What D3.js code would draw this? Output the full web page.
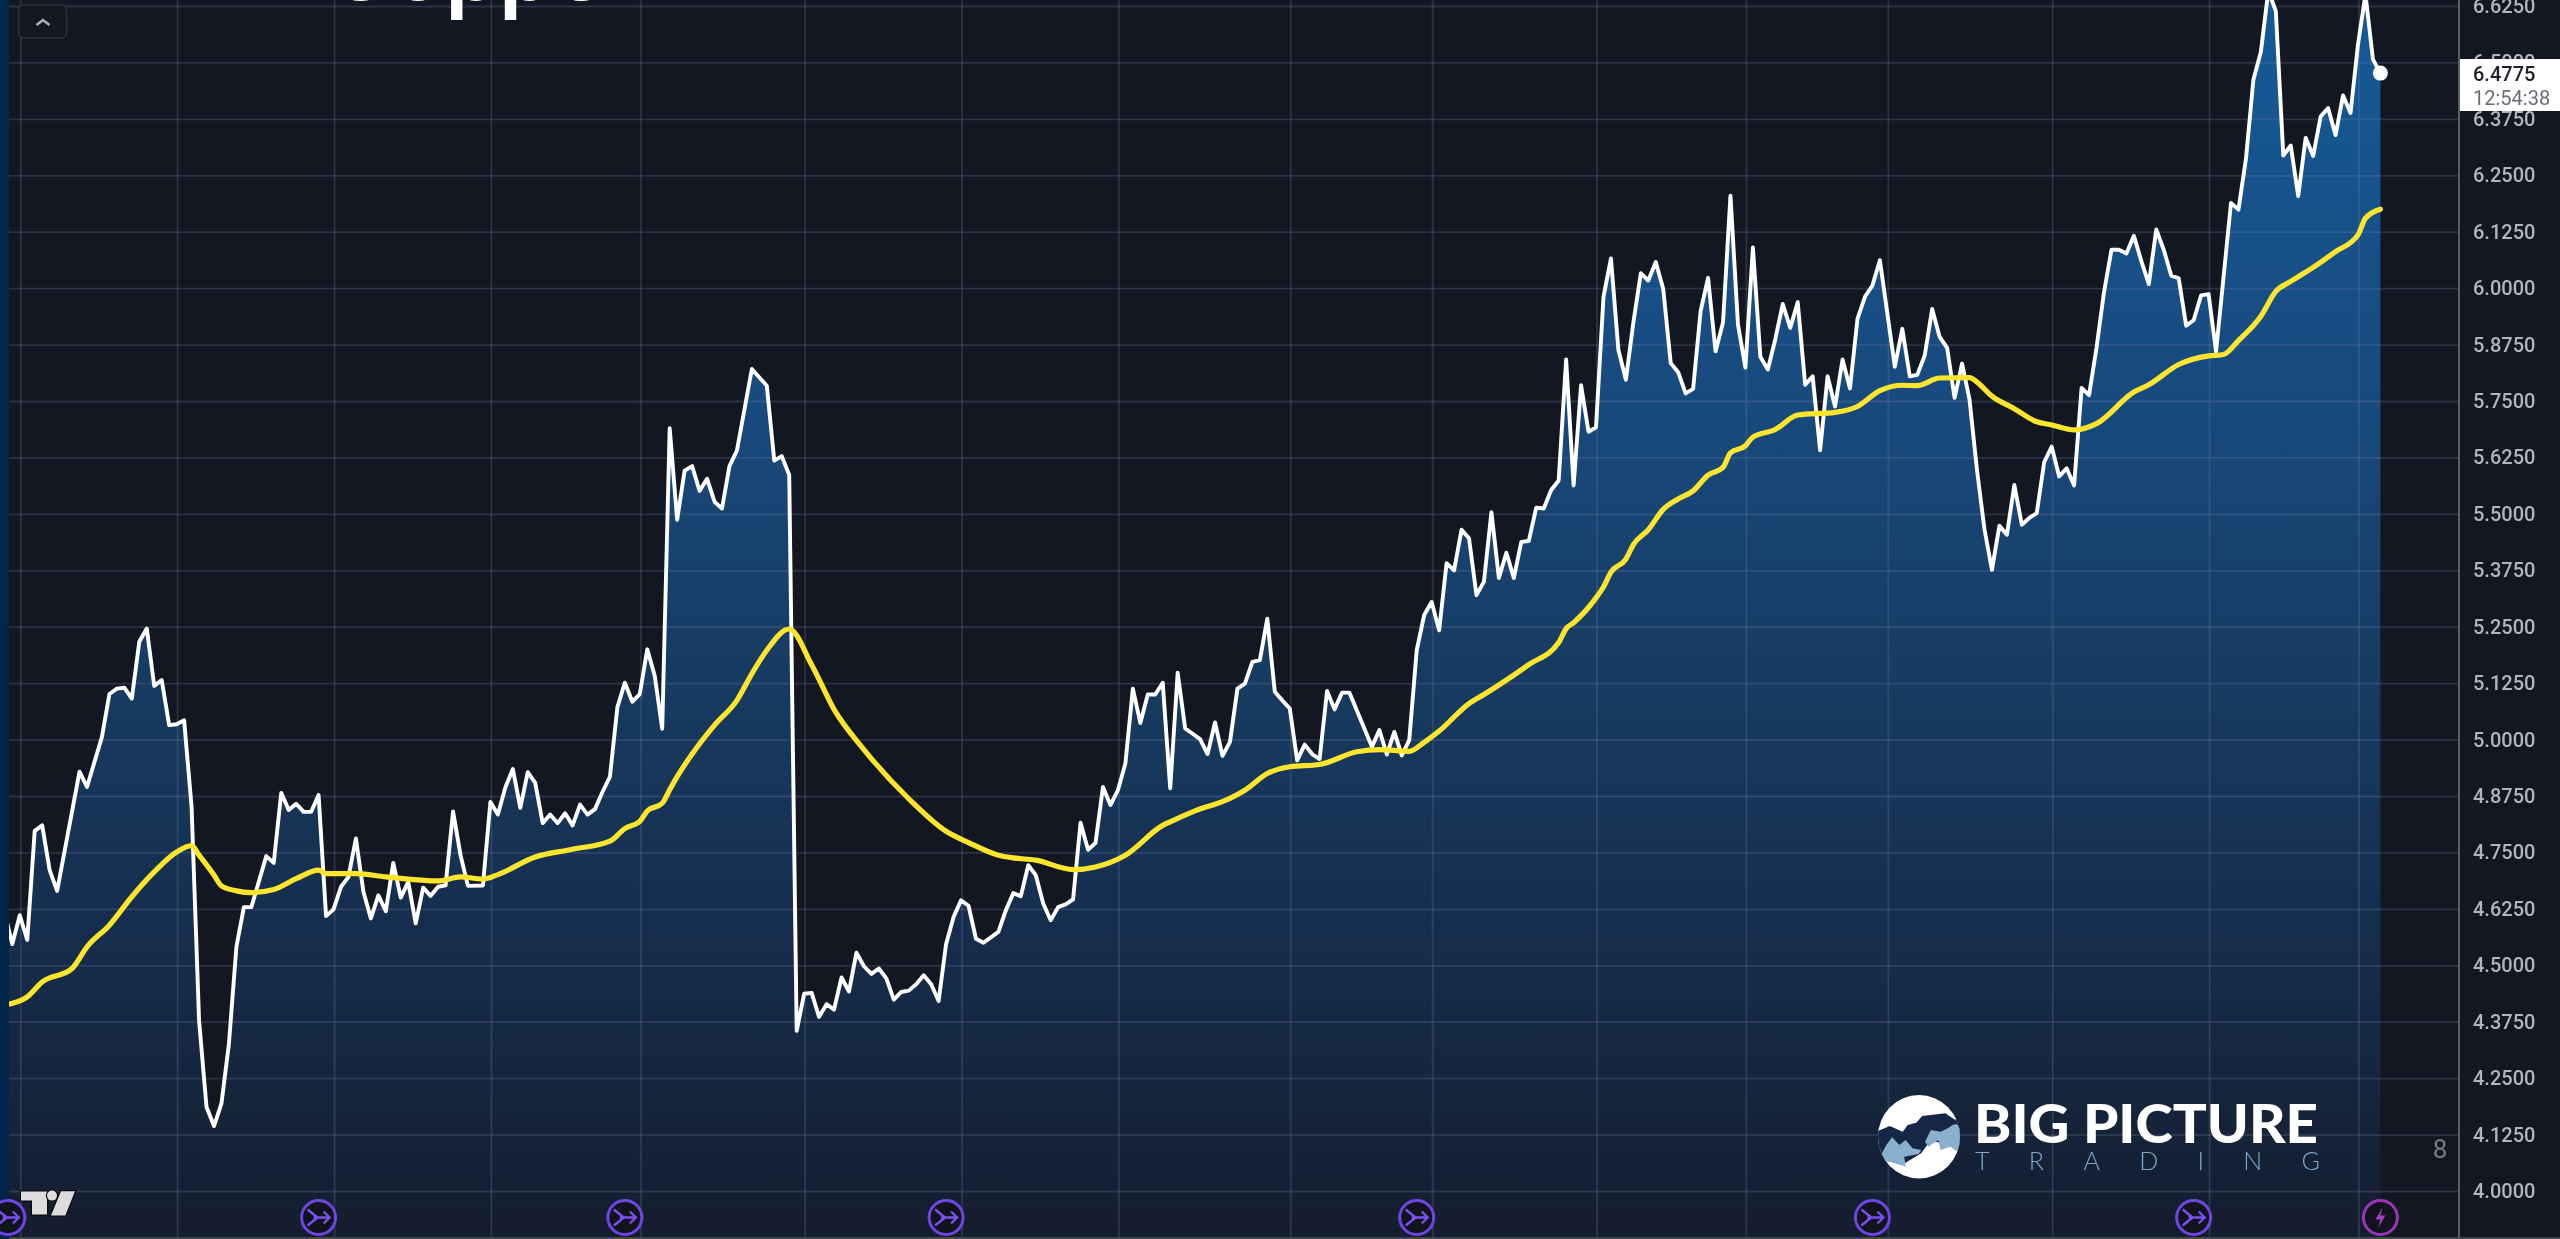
<!DOCTYPE html>
<html>
<head>
<meta charset="utf-8">
<script src="https://cdn.jsdelivr.net/npm/d3@7"></script>
<style>
html,body{margin:0;padding:0;background:#131722;overflow:hidden}
svg{display:block;filter:blur(0.6px)}
</style>
</head>
<body>
<svg id="chart" width="2560" height="1239"></svg>
<script>
const title = "Copper";
const priceTicks = [4.0,4.125,4.25,4.375,4.5,4.625,4.75,4.875,5.0,5.125,5.25,5.375,5.5,5.625,5.75,5.875,6.0,6.125,6.25,6.375,6.5,6.625];
const monthSessions = [2,23,44,65,85,107,128,149,172,191,213,233,252,274,295,315];
const eventSessions = [0,42,83,126,189,250,293];
const boltSession = 318;
const lastPrice = 6.4775;
const countdown = "12:54:38";
const sessionCount = 318;

const closeSessions = [
0,1,2,3,4,5,6,7,10,11,13,14,15,16,17,18,19,20,21,22,23,24,25,26,27,28,29,30,31,32,33,35,36,37,38,39,40,41,42,43,44,45,46,47,48,49,50,51,52,53,54,55,56,57,58,59,60,61,62,64,
65,66,67,68,69,70,71,72,73,74,75,76,77,78,79,80,81,82,83,84,85,86,87,88,89,90,91,92,93,94,95,96,97,98,100,102,103,104,105,106,107,108,109,110,111,112,113,114,115,116,117,118,119,120,121,122,123,124,125,126,127,128,129,
130,131,133,134,135,136,137,138,139,140,141,142,143,144,145,146,147,148,149,150,151,152,153,154,155,156,157,158,159,160,161,162,163,164,165,166,167,168,169,170,171,172,173,174,175,176,177,178,179,180,183,184,185,186,187,188,189,190,191,192,
193,194,195,196,197,198,199,200,201,202,203,204,205,206,207,208,209,210,211,212,213,214,215,216,217,218,219,220,221,222,223,224,225,226,227,228,229,230,231,232,233,234,235,236,237,238,239,240,241,242,243,244,245,246,247,248,249,250,251,252,253,254,255,256,
257,258,259,260,261,262,263,264,265,266,267,268,269,270,271,272,273,274,275,276,277,278,279,280,281,282,283,284,285,286,287,288,289,290,291,292,293,294,295,296,297,298,299,300,301,302,303,304,305,306,307,308,309,310,311,312,313,314,315,316,317,318
];
const closeValues = [
4.616,4.548,4.612,4.557,4.799,4.811,4.712,4.666,4.930,4.896,5.007,5.102,5.114,5.116,5.092,5.218,5.247,5.120,5.133,5.033,5.035,5.044,4.852,4.379,4.187,4.145,4.195,4.328,4.542,4.630,4.630,4.743,4.728,4.883,4.845,4.859,4.841,4.841,4.878,4.610,4.625,4.675,4.697,4.782,4.664,4.605,4.656,4.621,4.728,4.651,4.686,4.594,4.673,4.655,4.675,4.678,4.842,4.745,4.677,4.678,
4.863,4.835,4.895,4.936,4.850,4.929,4.905,4.816,4.835,4.816,4.838,4.811,4.857,4.835,4.847,4.885,4.919,5.073,5.127,5.085,5.102,5.201,5.142,5.025,5.691,5.488,5.597,5.607,5.552,5.579,5.528,5.513,5.607,5.641,5.822,5.785,5.619,5.629,5.587,4.356,4.438,4.440,4.387,4.415,4.403,4.474,4.443,4.529,4.499,4.482,4.494,4.472,4.425,4.442,4.445,4.459,4.479,4.459,4.422,4.548,4.608,4.645,4.633,
4.560,4.551,4.575,4.623,4.661,4.654,4.723,4.701,4.638,4.601,4.630,4.636,4.647,4.817,4.757,4.772,4.896,4.856,4.889,4.948,5.114,5.038,5.101,5.101,5.127,4.893,5.149,5.026,5.014,5.002,4.969,5.039,4.965,4.996,5.114,5.125,5.173,5.177,5.269,5.107,5.088,5.070,4.955,4.990,4.969,4.958,5.109,5.068,5.105,5.105,4.985,5.022,4.968,5.018,4.966,5.000,5.199,5.277,5.306,5.243,
5.392,5.376,5.466,5.447,5.321,5.351,5.505,5.359,5.415,5.359,5.439,5.441,5.515,5.513,5.554,5.575,5.843,5.564,5.786,5.683,5.693,5.982,6.067,5.864,5.798,5.925,6.034,6.018,6.059,5.999,5.835,5.815,5.768,5.778,5.950,6.024,5.861,5.925,6.206,5.921,5.825,6.091,5.849,5.821,5.888,5.966,5.913,5.970,5.787,5.806,5.642,5.806,5.739,5.843,5.779,5.933,5.982,6.007,6.063,5.945,5.827,5.911,5.806,5.809,
5.852,5.955,5.893,5.869,5.758,5.834,5.754,5.598,5.467,5.377,5.475,5.455,5.565,5.477,5.492,5.503,5.616,5.650,5.584,5.602,5.564,5.780,5.764,5.869,5.992,6.086,6.086,6.078,6.117,6.061,6.010,6.131,6.086,6.029,6.023,5.918,5.930,5.985,5.988,5.861,6.025,6.190,6.175,6.287,6.463,6.525,6.660,6.615,6.295,6.317,6.205,6.334,6.294,6.381,6.400,6.340,6.428,6.389,6.541,6.652,6.508,6.4775
];

const maSessions = [
0,3,5,9,11,14,17,20,23,25,26,28,29,31,33,36,39,42,43,47,51,58,61,
64,66,71,76,81,83,85,86,88,89,90,92,95,98,100,102,105,108,111,115,121,126,129,
133,135,138,143,146,150,155,156,159,164,166,169,172,176,181,184,188,190,
192,196,198,200,204,208,209,210,213,214,215,217,218,220,222,224,226,228,230,231,233,234,237,240,245,248,251,254,
256,259,263,264,266,269,272,274,277,280,285,287,291,295,297,299,302,304,306,309,312,315,316,318
];
const maValues = [
4.413,4.431,4.464,4.494,4.542,4.590,4.653,4.708,4.752,4.766,4.745,4.701,4.677,4.666,4.662,4.669,4.693,4.712,4.704,4.704,4.697,4.688,4.697,
4.692,4.702,4.741,4.758,4.776,4.804,4.820,4.843,4.860,4.890,4.919,4.969,5.033,5.088,5.147,5.199,5.246,5.167,5.068,4.979,4.870,4.798,4.773,
4.745,4.739,4.734,4.713,4.719,4.745,4.811,4.819,4.841,4.871,4.889,4.926,4.941,4.946,4.974,4.979,4.975,4.995,
5.020,5.081,5.101,5.122,5.167,5.216,5.247,5.260,5.315,5.339,5.372,5.401,5.433,5.466,5.511,5.534,5.552,5.587,5.604,5.636,5.652,5.671,5.688,5.720,5.726,5.739,5.774,5.786,
5.785,5.802,5.803,5.793,5.762,5.734,5.705,5.698,5.687,5.701,5.771,5.787,5.832,5.851,5.854,5.885,5.939,5.994,6.016,6.047,6.082,6.119,6.156,6.176
];

const closeData = closeSessions.map((s,i)=>({s,v:closeValues[i]}));
const maData = maSessions.map((s,i)=>({s,v:maValues[i]}));

const W = 2560, H = 1239;
const axisX = 2459;
const x = d3.scaleLinear().domain([0,sessionCount]).range([4.83,2380.4]);
const y = d3.scaleLinear().domain([4.0,6.625]).range([1191.5,6.5]);

const svg = d3.select("#chart");
svg.append("rect").attr("width",W).attr("height",H).attr("fill","#131722");

const defs = svg.append("defs");
const grad = defs.append("linearGradient").attr("id","areaGrad")
  .attr("gradientUnits","userSpaceOnUse").attr("x1",0).attr("x2",0).attr("y1",0).attr("y2",H);
[[0,"#155a98"],[400/H,"#184a7e"],[700/H,"#173a60"],[900/H,"#162f50"],[1100/H,"#15253c"],[1,"#141d2d"]]
  .forEach(([o,c])=>grad.append("stop").attr("offset",o).attr("stop-color",c));

// area
const area = d3.area().x(d=>x(d.s)).y0(H).y1(d=>y(d.v)).curve(d3.curveLinear);
svg.append("path").datum(closeData).attr("d",area).attr("fill","url(#areaGrad)");

// grid
const gridColor = "rgba(120,130,170,0.25)";
const grid = svg.append("g");
grid.selectAll("line.h").data(priceTicks).join("line").attr("class","h")
  .attr("x1",9).attr("x2",axisX).attr("y1",d=>y(d)).attr("y2",d=>y(d))
  .attr("stroke",gridColor).attr("stroke-width",1.8);
grid.selectAll("line.v").data(monthSessions).join("line").attr("class","v")
  .attr("x1",d=>x(d)+1).attr("x2",d=>x(d)+1).attr("y1",0).attr("y2",H)
  .attr("stroke",gridColor).attr("stroke-width",1.8);

// lines
const line = d3.line().x(d=>x(d.s)).y(d=>y(d.v)).curve(d3.curveLinear);
svg.append("path").datum(closeData).attr("d",line).attr("fill","none")
  .attr("stroke","#ffffff").attr("stroke-width",3.9).attr("stroke-linejoin","round");
const maLine = d3.line().x(d=>x(d.s)).y(d=>y(d.v)).curve(d3.curveMonotoneX);
svg.append("path").datum(maData).attr("d",maLine).attr("fill","none")
  .attr("stroke","#fde52d").attr("stroke-width",5.2).attr("stroke-linejoin","round").attr("stroke-linecap","round");
svg.append("circle").attr("cx",x(sessionCount)).attr("cy",y(lastPrice)).attr("r",7.5).attr("fill","#fff");

// left strip
const stripGrad = defs.append("linearGradient").attr("id","strip").attr("x1",0).attr("x2",0).attr("y1",0).attr("y2",1);
stripGrad.append("stop").attr("offset",0).attr("stop-color","#012a4c");
stripGrad.append("stop").attr("offset",1).attr("stop-color","#02244a");
svg.append("rect").attr("x",0).attr("y",0).attr("width",9).attr("height",H).attr("fill","url(#strip)");

// title (cropped by the top of the window)
svg.append("text").attr("x",328).attr("y",0.4).text(title)
  .attr("font-family","Roboto").attr("font-weight",500).attr("font-size",96).attr("fill","#fff");

// collapse button
svg.append("rect").attr("x",18.5).attr("y",5).attr("width",48).attr("height",33).attr("rx",5)
  .attr("fill","#131722").attr("stroke","#2f3036").attr("stroke-width",1.6);
svg.append("path").attr("d","M36.5 25 L43 20 L49.5 25").attr("fill","none").attr("stroke","#b5b5b8").attr("stroke-width",2.4);

// axis
const yAxis = d3.axisRight(y).tickValues(priceTicks).tickFormat(d3.format(".4f")).tickSize(0).tickPadding(14);
const ag = svg.append("g").attr("transform",`translate(${axisX},0)`).call(yAxis);
ag.select(".domain").remove();
ag.selectAll("text").attr("font-family","Roboto").attr("font-size",20).attr("font-weight",500)
  .attr("fill","#b2b5be").attr("dy","0.30em");
svg.append("line").attr("x1",axisX).attr("x2",axisX).attr("y1",0).attr("y2",H).attr("stroke","#5b5d66").attr("stroke-width",2);
svg.append("line").attr("x1",9).attr("x2",W).attr("y1",H-1).attr("y2",H-1).attr("stroke","#43464f").attr("stroke-width",2);

// last price label
svg.append("rect").attr("x",axisX+1).attr("y",59).attr("width",W-axisX).attr("height",52).attr("fill","#ffffff");
svg.append("text").attr("x",2473).attr("y",81).text(d3.format(".4f")(lastPrice))
  .attr("font-family","Roboto").attr("font-size",20).attr("font-weight",500).attr("fill","#1d2029");
svg.append("text").attr("x",2473).attr("y",105).text(countdown)
  .attr("font-family","Roboto").attr("font-size",20).attr("fill","#6a6d78");

// pane number
svg.append("text").attr("x",2440).attr("y",1158).attr("text-anchor","middle").text("8")
  .attr("font-family","Roboto").attr("font-size",26).attr("fill","#787b84");

// event markers
const iconY = 1217.5;
const ev = svg.append("g").selectAll("g").data(eventSessions).join("g")
  .attr("transform",d=>`translate(${x(d)+ (d===0?3:0)},${iconY})`);
ev.append("circle").attr("r",17).attr("fill","#12141d").attr("stroke","#6f45e6").attr("stroke-width",3);
ev.append("path").attr("d","M-11 -8 L-1 0 L-11 8 M-5 0 L11 0 M5 -6 L11 0 L5 6").attr("fill","none")
  .attr("stroke","#7a50ee").attr("stroke-width",2.4);
const bolt = svg.append("g").attr("transform",`translate(${x(boltSession)},${iconY})`);
bolt.append("circle").attr("r",17).attr("fill","#12141d").attr("stroke","#9a35b8").attr("stroke-width",3);
bolt.append("path").attr("d","M2 -10 L-5 2 L0 2 L-2 10 L5 -2 L0 -2 Z").attr("fill","#a63cc4");

// TradingView mark
const tv = svg.append("g").attr("fill","#dcdcdc").attr("stroke","#0b0c10").attr("stroke-width",2.5).attr("paint-order","stroke");
tv.append("path").attr("d","M21 1191.5 H47 V1214.5 H32 V1200.5 H21 Z");
tv.append("circle").attr("cx",52).attr("cy",1195.6).attr("r",5);
tv.append("path").attr("d","M61 1191.3 H75 L65.3 1215.4 H51 Z");

// Big Picture Trading logo
const lp = ([a,b])=>[1800+a/2.063,1050+b/3];
const poly = pts=>"M"+pts.map(lp).map(p=>p.join(" ")).join("L")+"Z";
defs.append("clipPath").attr("id","globe").append("ellipse").attr("cx",1919).attr("cy",1136.7).attr("rx",41).attr("ry",41.7);
const logo = svg.append("g");
logo.append("ellipse").attr("cx",1919).attr("cy",1136.7).attr("rx",41).attr("ry",41.7).attr("fill","#fff");
const lg = logo.append("g").attr("clip-path","url(#globe)");
lg.append("path").attr("fill","#152744").attr("d",poly([[150,250],[185,228],[212,245],[222,225],[240,218],[252,198],[300,190],[318,208],[340,215],[340,300],[320,290],[290,280],[270,270],[250,310],[210,345],[165,325]]));
lg.append("path").attr("fill","#8ab0d0").attr("d",poly([[160,335],[178,285],[190,262],[205,285],[218,270],[232,295],[250,300],[245,312],[215,320],[218,350],[190,335]]));
lg.append("path").attr("fill","#8ab0d0").attr("d",poly([[258,275],[270,240],[290,245],[305,235],[315,225],[322,222],[340,240],[340,320],[310,290],[290,300],[285,270],[265,290]]));
svg.append("text").attr("x",1974).attr("y",1143).text("BIG PICTURE")
  .attr("font-family","Lato").attr("font-weight",900).attr("font-size",53).attr("fill","#fff")
  .attr("textLength",344).attr("lengthAdjust","spacingAndGlyphs");
svg.append("text").attr("x",1975).attr("y",1169.5).text("TRADING")
  .attr("font-family","Lato").attr("font-weight",300).attr("font-size",25).attr("fill","#7fa8cc")
  .attr("textLength",345).attr("lengthAdjust","spacing");
</script>
</body>
</html>
